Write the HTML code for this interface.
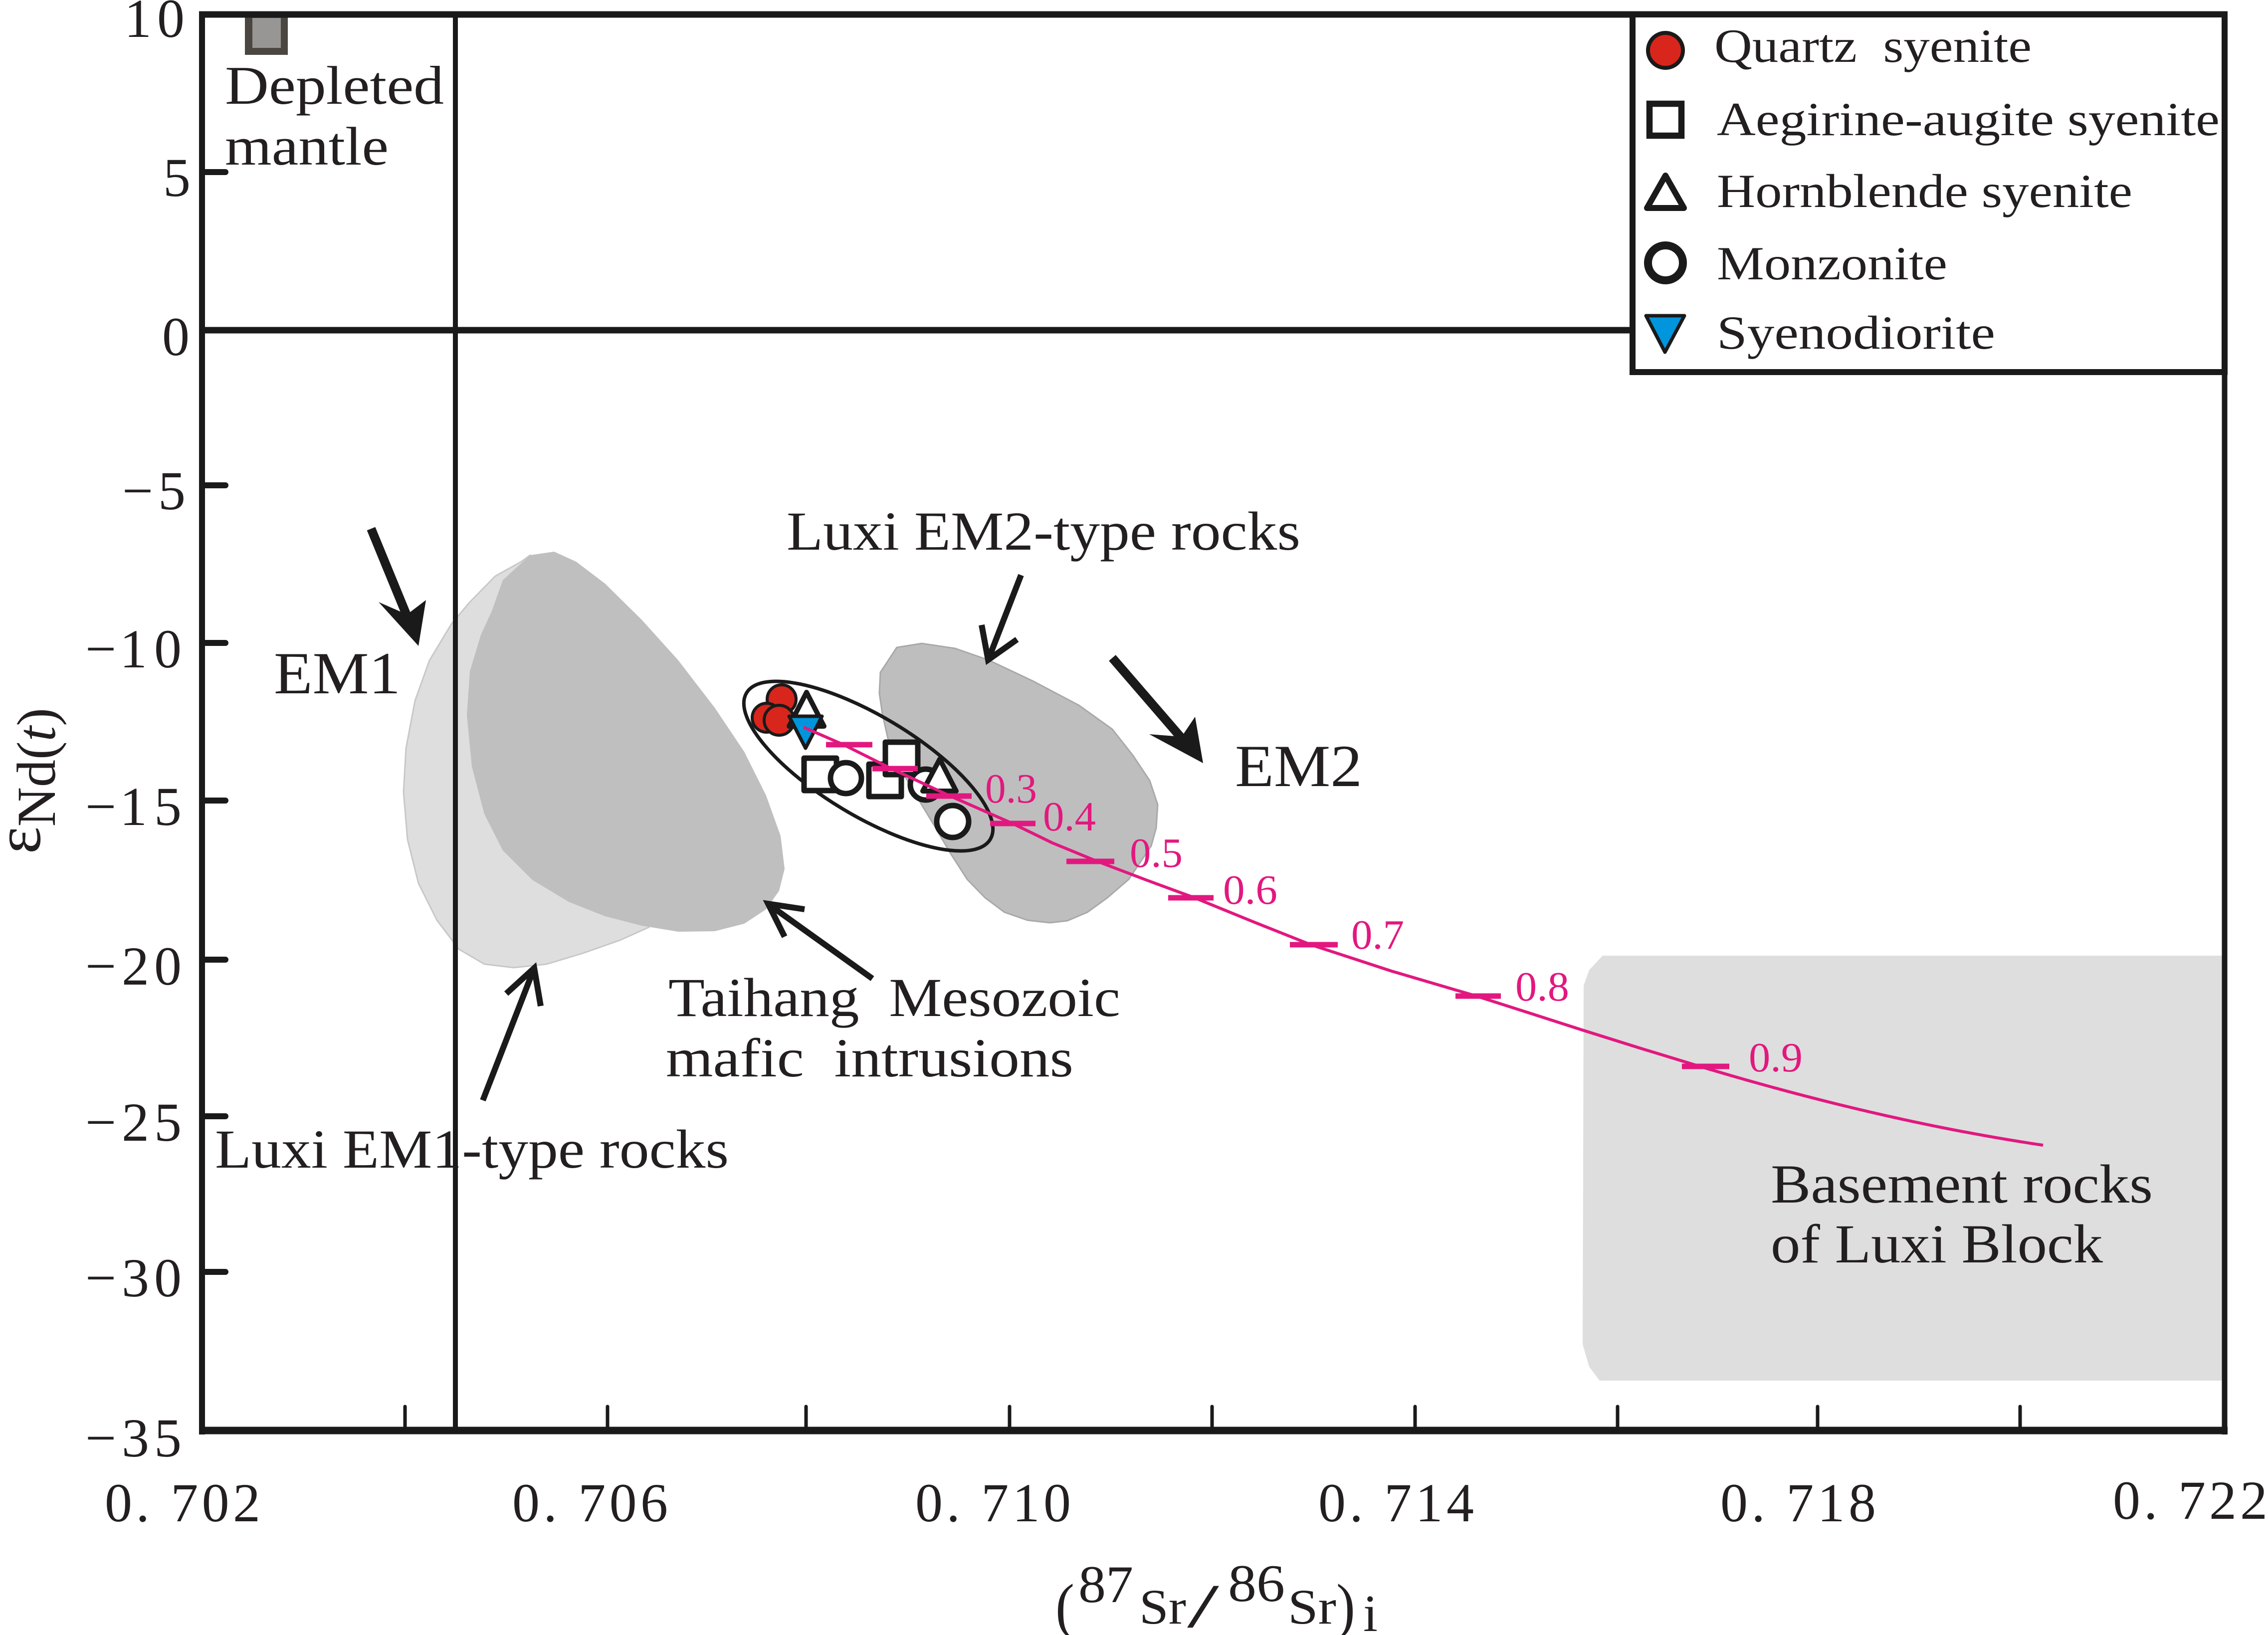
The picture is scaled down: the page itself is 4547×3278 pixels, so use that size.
<!DOCTYPE html>
<html>
<head>
<meta charset="utf-8">
<style>
  html, body { margin: 0; padding: 0; background: #ffffff; }
  svg { display: block; }
  svg text { white-space: pre; font-family: "Liberation Serif", serif; }
</style>
</head>
<body>
<svg xmlns="http://www.w3.org/2000/svg" width="4547" height="3278" viewBox="0 0 4547 3278">
  <rect x="0" y="0" width="4547" height="3278" fill="#ffffff"/>

  <!-- Basement rocks field -->
  <path d="M3213,1916 L4460,1916 L4460,2768 L3207,2768 L3186,2740 L3173,2695 L3175,1976 L3186,1945 Z" fill="#dedede"/>

  <!-- Luxi EM1-type rocks (light) -->
  <polygon points="1063,1113 1045,1126 993,1155 942,1207 905,1251 861,1324 832,1405 814,1500 809,1588 817,1683 839,1771 876,1845 920,1903 971,1933 1030,1940 1096,1933 1169,1911 1243,1885 1301,1859 1250,1700 1100,1400" fill="#dedede" stroke="#c8c8c8" stroke-width="3" stroke-linejoin="round"/>
  <!-- Taihang Mesozoic mafic intrusions (dark) -->
  <polygon points="1063,1113 1111,1106 1155,1126 1213,1170 1287,1243 1360,1324 1433,1419 1492,1507 1536,1595 1565,1676 1573,1742 1562,1786 1536,1823 1492,1852 1433,1867 1360,1868 1287,1856 1213,1837 1140,1808 1067,1764 1008,1705 971,1632 946,1537 936,1434 942,1346 964,1273 986,1225 1008,1163" fill="#bfbfbf" stroke-linejoin="round"/>
  <!-- Luxi EM2-type rocks -->
  <polygon points="1765,1348 1798,1298 1848,1290 1915,1300 1981,1323 2070,1365 2163,1414 2230,1462 2271,1514 2305,1565 2321,1613 2318,1660 2308,1696 2263,1763 2220,1800 2180,1829 2140,1846 2105,1850 2060,1845 2014,1829 1975,1800 1939,1763 1905,1710 1873,1655 1835,1592 1799,1530 1780,1480 1769,1431 1763,1390" fill="#bebebe" stroke="#a9a9a9" stroke-width="3" stroke-linejoin="round"/>

  <!-- Ellipse around samples -->
  <ellipse cx="1741" cy="1536" rx="285" ry="100" transform="rotate(31 1741 1536)" fill="none" stroke="#1a1a1a" stroke-width="7"/>

  <!-- Depleted mantle square -->
  <rect x="491" y="28" width="86" height="82" fill="#4b463f"/>
  <rect x="506" y="36" width="57" height="60" fill="#979694"/>

  <!-- Axes frame -->
  <line x1="913" y1="29" x2="913" y2="2868" stroke="#1a1a1a" stroke-width="10"/>
  <line x1="405" y1="662" x2="3273" y2="662" stroke="#1a1a1a" stroke-width="13"/>
  <line x1="399" y1="29" x2="4466" y2="29" stroke="#1a1a1a" stroke-width="13"/>
  <line x1="399" y1="2868" x2="4466" y2="2868" stroke="#1a1a1a" stroke-width="15"/>
  <line x1="405" y1="23" x2="405" y2="2876" stroke="#1a1a1a" stroke-width="12"/>
  <line x1="4460" y1="23" x2="4460" y2="2876" stroke="#1a1a1a" stroke-width="11"/>

  <!-- Y ticks -->
  <g stroke="#1a1a1a" stroke-width="12" stroke-linecap="round">
    <line x1="405" y1="345" x2="452" y2="345"/>
    <line x1="405" y1="973" x2="452" y2="973"/>
    <line x1="405" y1="1289" x2="452" y2="1289"/>
    <line x1="405" y1="1605" x2="452" y2="1605"/>
    <line x1="405" y1="1924" x2="452" y2="1924"/>
    <line x1="405" y1="2238" x2="452" y2="2238"/>
    <line x1="405" y1="2550" x2="452" y2="2550"/>
  </g>
  <!-- X ticks -->
  <g stroke="#1a1a1a" stroke-width="7" stroke-linecap="round">
    <line x1="812" y1="2820" x2="812" y2="2868"/>
    <line x1="1218" y1="2820" x2="1218" y2="2868"/>
    <line x1="1616" y1="2820" x2="1616" y2="2868"/>
    <line x1="2024" y1="2820" x2="2024" y2="2868"/>
    <line x1="2430" y1="2820" x2="2430" y2="2868"/>
    <line x1="2837" y1="2820" x2="2837" y2="2868"/>
    <line x1="3243" y1="2820" x2="3243" y2="2868"/>
    <line x1="3644" y1="2820" x2="3644" y2="2868"/>
    <line x1="4050" y1="2820" x2="4050" y2="2868"/>
  </g>

  <!-- Y tick labels -->
  <g font-size="110" fill="#231f20">
    <text x="249 315" y="74">10</text>
    <text x="327" y="393">5</text>
    <text x="325" y="712">0</text>
    <text x="245 317" y="1021">−5</text>
    <text x="171 240 309" y="1338">−10</text>
    <text x="171 240 309" y="1654">−15</text>
    <text x="171 244 309" y="1974">−20</text>
    <text x="171 244 309" y="2287">−25</text>
    <text x="171 244 309" y="2599">−30</text>
    <text x="171 244 309" y="2920">−35</text>
  </g>

  <!-- X tick labels -->
  <g font-size="110" fill="#231f20">
    <text x="210" y="3050" textLength="312" lengthAdjust="spacing">0. 702</text>
    <text x="1027" y="3050" textLength="312" lengthAdjust="spacing">0. 706</text>
    <text x="1835" y="3050" textLength="312" lengthAdjust="spacing">0. 710</text>
    <text x="2643" y="3050" textLength="312" lengthAdjust="spacing">0. 714</text>
    <text x="3449" y="3050" textLength="312" lengthAdjust="spacing">0. 718</text>
    <text x="4236" y="3045" textLength="310" lengthAdjust="spacing">0. 722</text>
  </g>

  <!-- X axis title -->
  <g fill="#231f20">
    <text x="2116" y="3262" font-size="125" textLength="38" lengthAdjust="spacingAndGlyphs">(</text>
    <text x="2162" y="3212" font-size="106" textLength="110" lengthAdjust="spacingAndGlyphs">87</text>
    <text x="2284" y="3255" font-size="100" textLength="94" lengthAdjust="spacingAndGlyphs">Sr</text>
    <text x="2380" y="3262" font-size="125" textLength="64" lengthAdjust="spacingAndGlyphs">/</text>
    <text x="2462" y="3210" font-size="106" textLength="114" lengthAdjust="spacingAndGlyphs">86</text>
    <text x="2582" y="3255" font-size="100" textLength="97" lengthAdjust="spacingAndGlyphs">Sr</text>
    <text x="2679" y="3262" font-size="125" textLength="38" lengthAdjust="spacingAndGlyphs">)</text>
    <text x="2733" y="3270" font-size="105" textLength="29" lengthAdjust="spacingAndGlyphs">i</text>
  </g>

  <!-- Y axis title -->
  <text transform="translate(110,1712) rotate(-90)" font-size="110" fill="#231f20"><tspan font-size="130" dy="-30">ε</tspan><tspan dy="30">Nd(</tspan><tspan font-style="italic">t</tspan><tspan>)</tspan></text>

  <!-- Legend -->
  <rect x="3273" y="29" width="1187" height="717" fill="#ffffff" stroke="#1a1a1a" stroke-width="12"/>
  <circle cx="3339" cy="101" r="35" fill="#d9261c" stroke="#1a1a1a" stroke-width="8"/>
  <rect x="3307" y="208" width="64" height="64" fill="#ffffff" stroke="#1a1a1a" stroke-width="12.5"/>
  <polygon points="3339,352 3302,417 3376,417" fill="#ffffff" stroke="#1a1a1a" stroke-width="12" stroke-linejoin="round"/>
  <circle cx="3339" cy="527" r="35" fill="#ffffff" stroke="#1a1a1a" stroke-width="16"/>
  <polygon points="3300,633 3377,633 3338,706" fill="#0095dc" stroke="#1a1a1a" stroke-width="7" stroke-linejoin="round"/>
  <g font-size="95" fill="#231f20">
    <text x="3437" y="124" textLength="636" lengthAdjust="spacingAndGlyphs">Quartz  syenite</text>
    <text x="3442" y="271" textLength="1008" lengthAdjust="spacingAndGlyphs">Aegirine-augite syenite</text>
    <text x="3442" y="415" textLength="833" lengthAdjust="spacingAndGlyphs">Hornblende syenite</text>
    <text x="3442" y="560" textLength="462" lengthAdjust="spacingAndGlyphs">Monzonite</text>
    <text x="3442" y="699" textLength="558" lengthAdjust="spacingAndGlyphs">Syenodiorite</text>
  </g>

  <!-- Filled barbed arrows (EM1, EM2) -->
  <line x1="744" y1="1060" x2="820" y2="1245" stroke="#1a1a1a" stroke-width="18"/>
  <polygon points="839,1295 759,1207 816,1232 854,1203" fill="#1a1a1a"/>
  <line x1="2230" y1="1319" x2="2375" y2="1487" stroke="#1a1a1a" stroke-width="18"/>
  <polygon points="2412,1530 2304,1472 2369,1477 2396,1437" fill="#1a1a1a"/>

  <!-- Open arrows -->
  <g stroke="#1a1a1a" stroke-width="12" fill="none" stroke-linejoin="miter">
    <line x1="2047" y1="1153" x2="1983" y2="1318"/>
    <polyline points="1968,1253 1981,1323 2039,1282"/>
    <line x1="1749" y1="1962" x2="1545" y2="1816"/>
    <polyline points="1613,1823 1540,1812 1573,1878"/>
    <line x1="968" y1="2206" x2="1069" y2="1946"/>
    <polyline points="1015,1992 1071,1941 1084,2017"/>
  </g>

  <!-- Data markers -->
  <g stroke="#1a1a1a" stroke-linejoin="round">
    <rect x="1612" y="1520" width="65" height="65" fill="#ffffff" stroke-width="11"/>
    <rect x="1742" y="1532" width="65" height="65" fill="#ffffff" stroke-width="11"/>
    <circle cx="1696" cy="1560" r="31" fill="#ffffff" stroke-width="11"/>
    <rect x="1775" y="1488" width="65" height="65" fill="#ffffff" stroke-width="11"/>
    <circle cx="1856" cy="1573" r="31" fill="#ffffff" stroke-width="11"/>
    <polygon points="1884,1522 1850,1586 1917,1586" fill="#ffffff" stroke-width="10"/>
    <circle cx="1910" cy="1647" r="32" fill="#ffffff" stroke-width="11"/>
    <circle cx="1567" cy="1402" r="29" fill="#d9261c" stroke-width="6"/>
    <circle cx="1537" cy="1439" r="29" fill="#d9261c" stroke-width="6"/>
    <circle cx="1562" cy="1444" r="30" fill="#d9261c" stroke-width="6"/>
    <polygon points="1617,1388 1582,1456 1652,1456" fill="#ffffff" stroke-width="10"/>
    <polygon points="1582,1436 1648,1436 1615,1500" fill="#0095dc" stroke-width="7"/>
  </g>

  <!-- Mixing curve -->
  <path d="M1611,1458 L1691,1493 L1789,1542 L1905,1596 L2030,1651 L2110,1690 L2200,1727 L2300,1765 L2395,1800 L2510,1847 L2628,1894 L2790,1947 L2960,1997 L3060,2029 L3172,2065 L3290,2102 L3408,2138 Q3773,2248 4096,2296" fill="none" stroke="#e2187f" stroke-width="6" stroke-linejoin="round"/>
  <g stroke="#e2187f" stroke-width="11">
    <line x1="1656" y1="1493" x2="1749" y2="1493"/>
    <line x1="1749" y1="1541" x2="1840" y2="1541"/>
    <line x1="1857" y1="1596" x2="1948" y2="1596"/>
    <line x1="1985" y1="1651" x2="2076" y2="1651"/>
    <line x1="2138" y1="1727" x2="2234" y2="1727"/>
    <line x1="2342" y1="1800" x2="2433" y2="1800"/>
    <line x1="2586" y1="1894" x2="2682" y2="1894"/>
    <line x1="2918" y1="1997" x2="3009" y2="1997"/>
    <line x1="3372" y1="2138" x2="3467" y2="2138"/>
  </g>
  <g font-size="84" fill="#e2187f">
    <text x="1975" y="1609" textLength="104" lengthAdjust="spacingAndGlyphs">0.3</text>
    <text x="2091" y="1665" textLength="106" lengthAdjust="spacingAndGlyphs">0.4</text>
    <text x="2265" y="1738" textLength="106" lengthAdjust="spacingAndGlyphs">0.5</text>
    <text x="2452" y="1812" textLength="109" lengthAdjust="spacingAndGlyphs">0.6</text>
    <text x="2709" y="1902" textLength="106" lengthAdjust="spacingAndGlyphs">0.7</text>
    <text x="3038" y="2006" textLength="108" lengthAdjust="spacingAndGlyphs">0.8</text>
    <text x="3506" y="2148" textLength="108" lengthAdjust="spacingAndGlyphs">0.9</text>
  </g>

  <!-- Annotation text -->
  <g fill="#231f20">
    <text x="451" y="208" font-size="109" textLength="439" lengthAdjust="spacingAndGlyphs">Depleted</text>
    <text x="451" y="330" font-size="109" textLength="328" lengthAdjust="spacingAndGlyphs">mantle</text>
    <text x="549" y="1390" font-size="120" textLength="254" lengthAdjust="spacingAndGlyphs">EM1</text>
    <text x="2476" y="1576" font-size="120" textLength="255" lengthAdjust="spacingAndGlyphs">EM2</text>
    <text x="1577" y="1102" font-size="110" textLength="1030" lengthAdjust="spacingAndGlyphs">Luxi EM2-type rocks</text>
    <text x="1340" y="2037" font-size="110" textLength="906" lengthAdjust="spacingAndGlyphs">Taihang  Mesozoic</text>
    <text x="1335" y="2158" font-size="110" textLength="817" lengthAdjust="spacingAndGlyphs">mafic  intrusions</text>
    <text x="431" y="2341" font-size="110" textLength="1030" lengthAdjust="spacingAndGlyphs">Luxi EM1-type rocks</text>
    <text x="3550" y="2411" font-size="110" textLength="766" lengthAdjust="spacingAndGlyphs">Basement rocks</text>
    <text x="3550" y="2531" font-size="110" textLength="666" lengthAdjust="spacingAndGlyphs">of Luxi Block</text>
  </g>
</svg>
</body>
</html>
